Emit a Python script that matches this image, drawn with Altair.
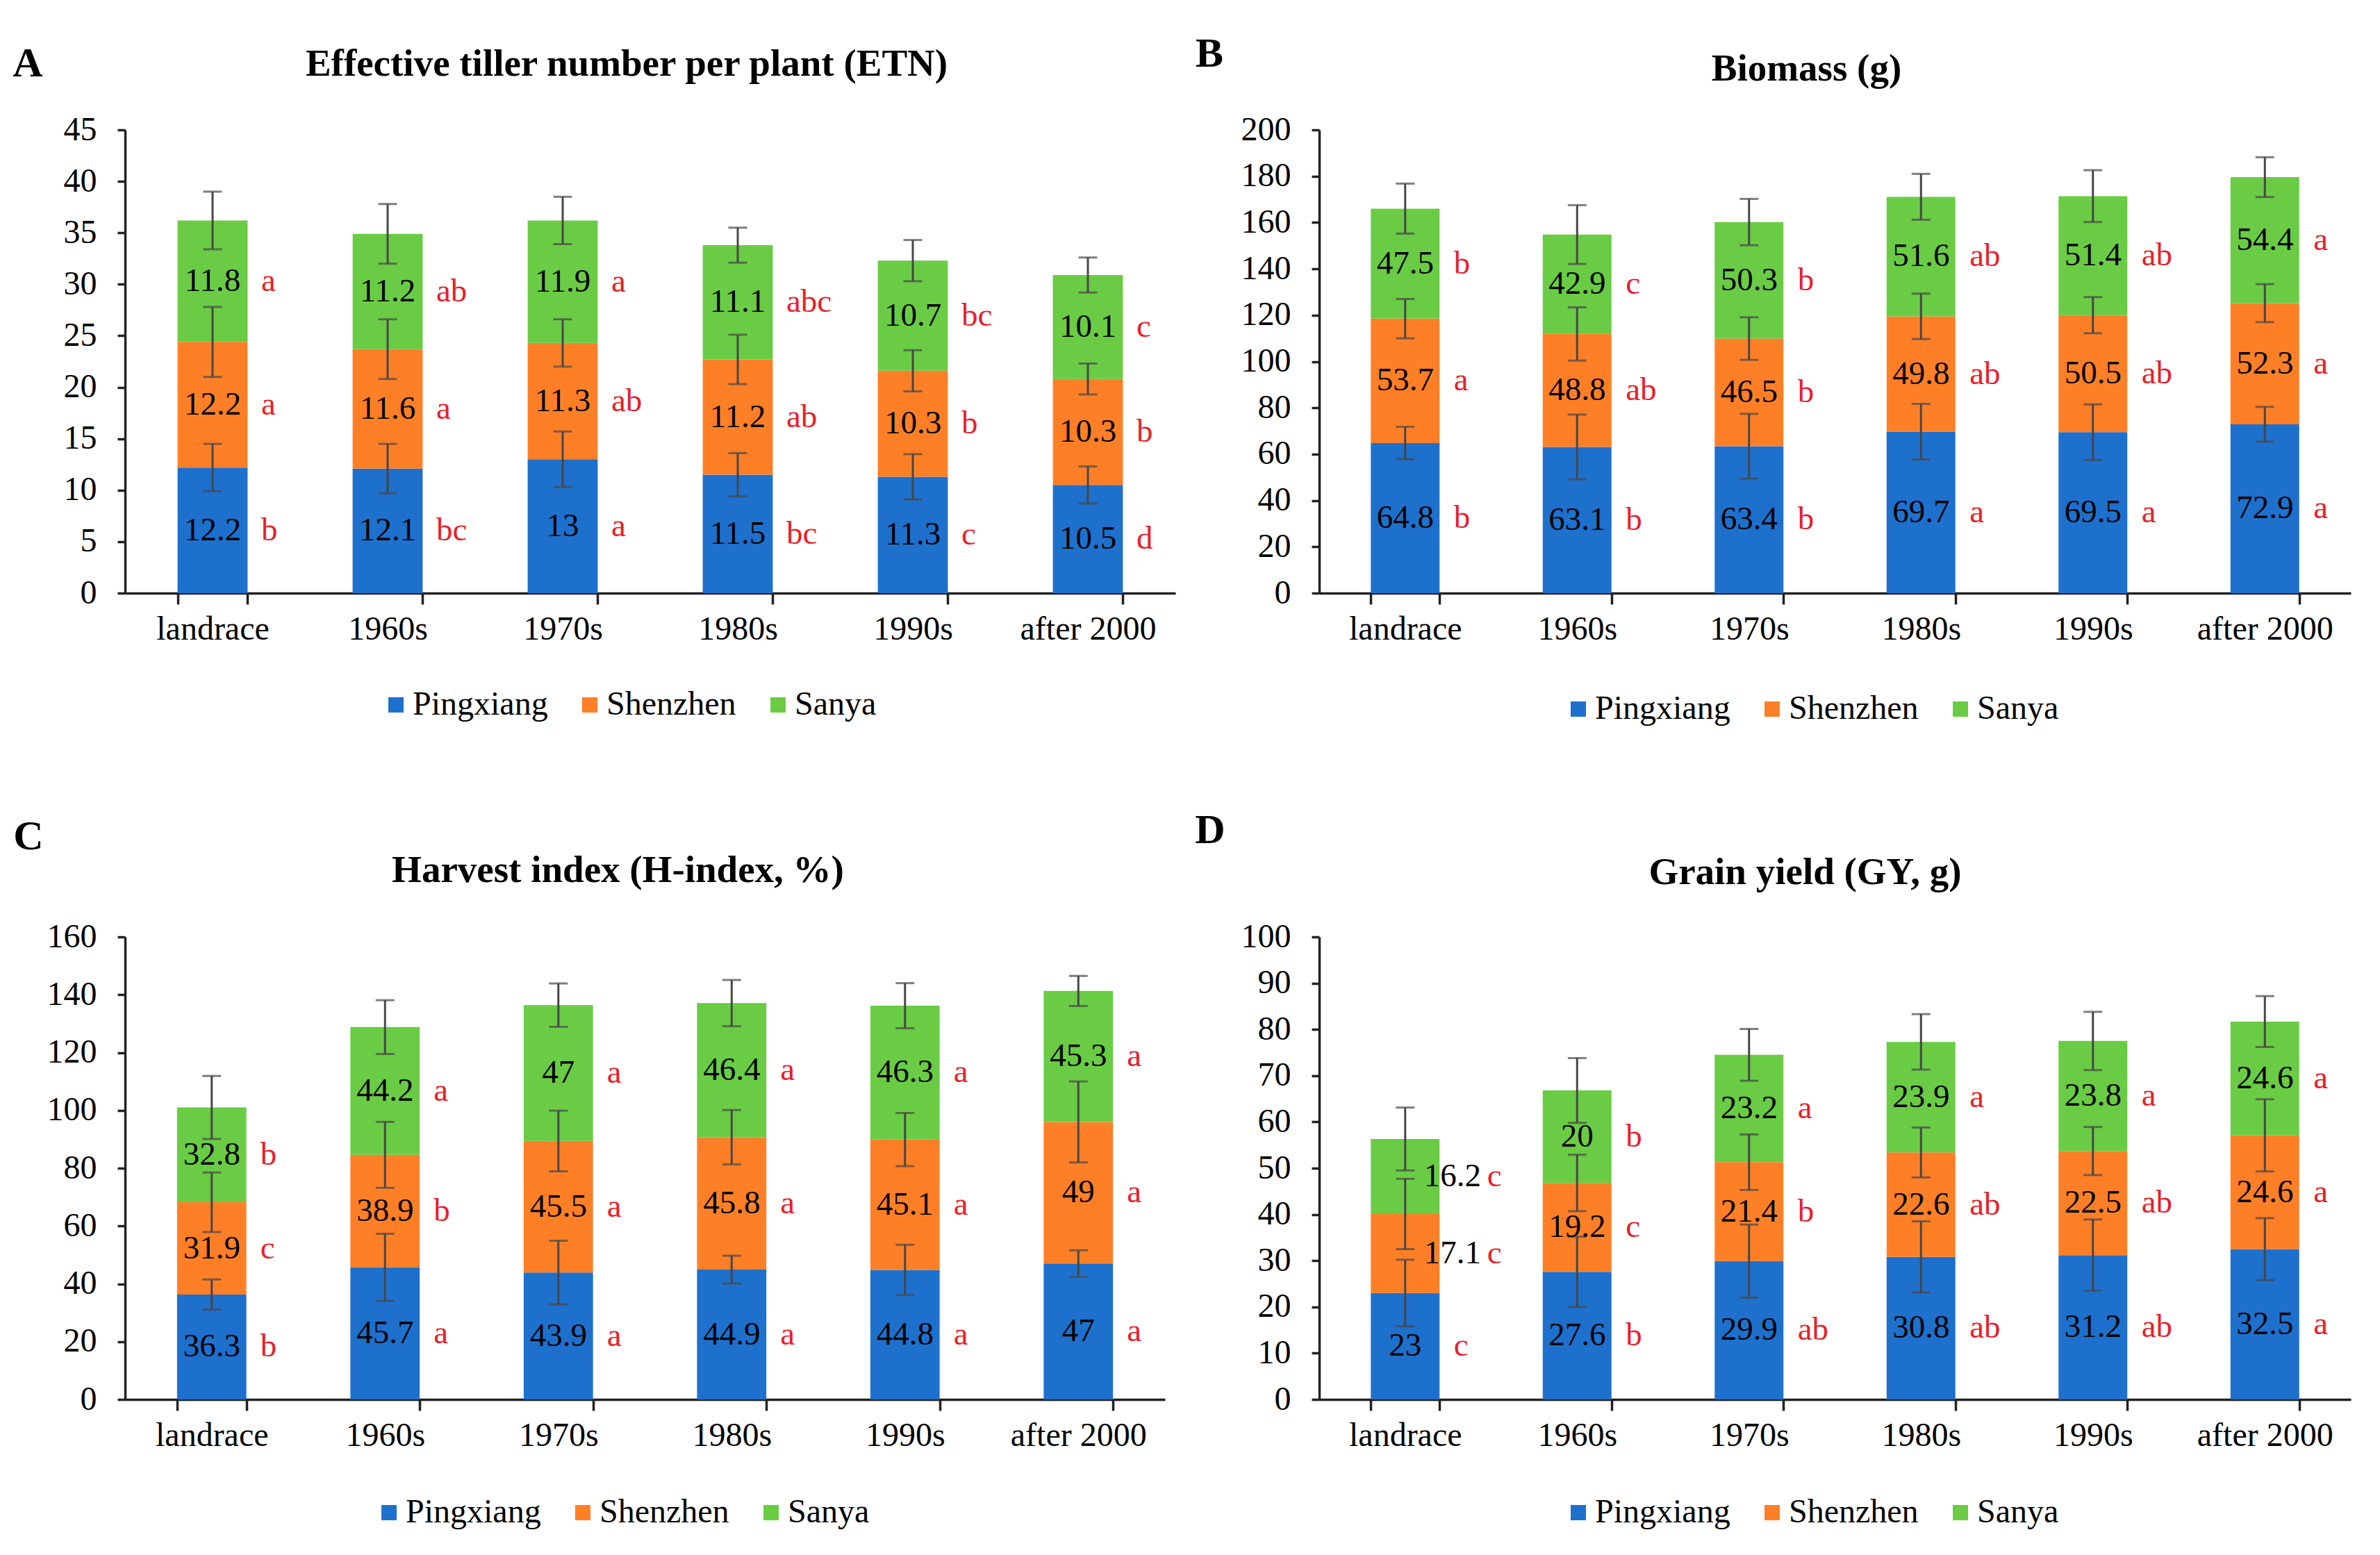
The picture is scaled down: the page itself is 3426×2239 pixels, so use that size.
import altair as alt
import pandas as pd

categories = ["landrace", "1960s", "1970s", "1980s", "1990s", "after 2000"]
series_names = ["Pingxiang", "Shenzhen", "Sanya"]
colors = ["#1E70CD", "#FF7F27", "#6ACC44"]

# Panel A: Effective tiller number per plant
A_ping = [12.2, 12.1, 13, 11.5, 11.3, 10.5]
A_shen = [12.2, 11.6, 11.3, 11.2, 10.3, 10.3]
A_sanya = [11.8, 11.2, 11.9, 11.1, 10.7, 10.1]
A_ping_err = [2.3, 2.4, 2.7, 2.1, 2.2, 1.8]
A_shen_err = [3.4, 2.9, 2.3, 2.4, 2.0, 1.5]
A_sanya_err = [2.8, 2.9, 2.3, 1.7, 2.0, 1.7]
A_ping_sig = ["b", "bc", "a", "bc", "c", "d"]
A_shen_sig = ["a", "a", "ab", "ab", "b", "b"]
A_sanya_sig = ["a", "ab", "a", "abc", "bc", "c"]

# Panel B: Biomass (g)
B_ping = [64.8, 63.1, 63.4, 69.7, 69.5, 72.9]
B_shen = [53.7, 48.8, 46.5, 49.8, 50.5, 52.3]
B_sanya = [47.5, 42.9, 50.3, 51.6, 51.4, 54.4]
B_ping_err = [7, 14, 14, 12, 12, 7.5]
B_shen_err = [8.5, 11.5, 9.2, 9.8, 7.8, 8.2]
B_sanya_err = [10.8, 12.7, 10, 9.9, 11.2, 8.6]
B_ping_sig = ["b", "b", "b", "a", "a", "a"]
B_shen_sig = ["a", "ab", "b", "ab", "ab", "a"]
B_sanya_sig = ["b", "c", "b", "ab", "ab", "a"]

# Panel C: Harvest index (%)
C_ping = [36.3, 45.7, 43.9, 44.9, 44.8, 47]
C_shen = [31.9, 38.9, 45.5, 45.8, 45.1, 49]
C_sanya = [32.8, 44.2, 47, 46.4, 46.3, 45.3]
C_ping_err = [5.2, 11.6, 11, 4.8, 8.7, 4.6]
C_shen_err = [10.3, 11.4, 10.5, 9.4, 9.2, 14]
C_sanya_err = [10.9, 9.3, 7.5, 8, 7.8, 5.2]
C_ping_sig = ["b", "a", "a", "a", "a", "a"]
C_shen_sig = ["c", "b", "a", "a", "a", "a"]
C_sanya_sig = ["b", "a", "a", "a", "a", "a"]

# Panel D: Grain yield (g)
D_ping = [23, 27.6, 29.9, 30.8, 31.2, 32.5]
D_shen = [17.1, 19.2, 21.4, 22.6, 22.5, 24.6]
D_sanya = [16.2, 20, 23.2, 23.9, 23.8, 24.6]
D_ping_err = [7.2, 7.6, 7.9, 7.7, 7.7, 6.7]
D_shen_err = [7.6, 6.1, 6.0, 5.4, 5.2, 7.8]
D_sanya_err = [6.8, 7.0, 5.6, 6.0, 6.3, 5.5]
D_ping_sig = ["c", "b", "ab", "ab", "ab", "a"]
D_shen_sig = ["c", "c", "b", "ab", "ab", "a"]
D_sanya_sig = ["c", "b", "a", "a", "a", "a"]

SERIF = "Liberation Serif"
ERR_COLOR = "#474747"
SIG_COLOR = "#E8202A"


def build_df(panel, vals, errs, sigs):
    rows = []
    for i, c in enumerate(categories):
        base = 0.0
        for k, s in enumerate(series_names):
            v = vals[k][i]
            e = errs[k][i]
            lo, hi = base, base + v
            rows.append(dict(
                cat=c, series=s, lo=lo, hi=hi, mid=(lo + hi) / 2,
                elo=hi - e, ehi=hi + e, label=f"{v:g}", sig=sigs[k][i],
                shift=bool(panel == "D" and c == "landrace" and s != "Pingxiang"),
            ))
            base = hi
    return pd.DataFrame(rows)


def panel(key, title, vals, errs, sigs, ymax, step, width, height,
          letter_xy, title_dx, title_y, legend_xy):
    df = build_df(key, vals, errs, sigs)
    xenc = alt.X("cat:N", sort=categories,
                 scale=alt.Scale(paddingInner=0.6, paddingOuter=0.3),
                 axis=alt.Axis(title=None, labelAngle=0, tickBand="extent",
                               tickSize=16, labelPadding=12, labelLimit=600))
    yscale = alt.Scale(domain=[0, ymax], nice=False)
    base = alt.Chart(df).encode(x=xenc)

    bars = base.mark_bar().encode(
        y=alt.Y("hi:Q", scale=yscale,
                axis=alt.Axis(title=None, grid=False, values=list(range(0, ymax + 1, step)),
                              format="d", tickSize=11, labelPadding=30)),
        y2="lo:Q",
        color=alt.Color("series:N",
                        scale=alt.Scale(domain=series_names, range=colors),
                        legend=alt.Legend(title=None, orient="none",
                                          legendX=legend_xy[0], legendY=legend_xy[1],
                                          direction="horizontal", symbolType="square",
                                          symbolSize=484, symbolStrokeWidth=0,
                                          labelFont=SERIF, labelFontSize=48,
                                          labelColor="black", labelOffset=0,
                                          labelLimit=600,
                                          columnPadding=36, padding=0)),
    )
    rules = base.mark_rule(color=ERR_COLOR, strokeWidth=3).encode(
        y=alt.Y("elo:Q", scale=yscale), y2="ehi:Q")
    cap_lo = base.mark_tick(color=ERR_COLOR, size=27, thickness=3, orient="horizontal").encode(
        y=alt.Y("elo:Q", scale=yscale))
    cap_hi = base.mark_tick(color=ERR_COLOR, size=27, thickness=3, orient="horizontal").encode(
        y=alt.Y("ehi:Q", scale=yscale))

    labels = base.transform_filter("!datum.shift").mark_text(
        font=SERIF, fontSize=47, color="black", baseline="middle").encode(
        y=alt.Y("mid:Q", scale=yscale), text="label:N")
    sigs_l = base.transform_filter("!datum.shift").mark_text(
        font=SERIF, fontSize=47, color=SIG_COLOR, baseline="middle", align="left", dx=70).encode(
        y=alt.Y("mid:Q", scale=yscale), text="sig:N")
    labels_s = base.transform_filter("datum.shift").mark_text(
        font=SERIF, fontSize=47, color="black", baseline="middle", dx=68).encode(
        y=alt.Y("mid:Q", scale=yscale), text="label:N")
    sigs_s = base.transform_filter("datum.shift").mark_text(
        font=SERIF, fontSize=47, color=SIG_COLOR, baseline="middle", align="left", dx=118).encode(
        y=alt.Y("mid:Q", scale=yscale), text="sig:N")

    annot = pd.DataFrame({"t": [key, title]})
    letter = alt.Chart(annot).transform_filter(alt.datum.t == key).mark_text(
        font=SERIF, fontSize=60, fontWeight="bold", color="black",
        align="center", baseline="middle").encode(
        text="t:N", x=alt.value(letter_xy[0]), y=alt.value(letter_xy[1]))
    heading = alt.Chart(annot).transform_filter(alt.datum.t == title).mark_text(
        font=SERIF, fontSize=55, fontWeight="bold", color="black",
        align="center", baseline="middle").encode(
        text="t:N", x=alt.value(width / 2 + title_dx), y=alt.value(title_y))

    return alt.layer(bars, rules, cap_lo, cap_hi, labels, sigs_l, labels_s, sigs_s,
                     letter, heading).properties(width=width, height=height)


pA = panel("A", "Effective tiller number per plant (ETN)",
           [A_ping, A_shen, A_sanya], [A_ping_err, A_shen_err, A_sanya_err],
           [A_ping_sig, A_shen_sig, A_sanya_sig], 45, 5, 1512, 667,
           (-140, -95), -34, -95, (366, 804))
pB = panel("B", "Biomass (g)",
           [B_ping, B_shen, B_sanya], [B_ping_err, B_shen_err, B_sanya_err],
           [B_ping_sig, B_shen_sig, B_sanya_sig], 200, 20, 1485, 667,
           (-158, -109), -41, -88, (349, 810))
pC = panel("C", "Harvest index (H-index, %)",
           [C_ping, C_shen, C_sanya], [C_ping_err, C_shen_err, C_sanya_err],
           [C_ping_sig, C_shen_sig, C_sanya_sig], 160, 20, 1497, 666,
           (-139, -144), -39, -96, (356, 805))
pD = panel("D", "Grain yield (GY, g)",
           [D_ping, D_shen, D_sanya], [D_ping_err, D_shen_err, D_sanya_err],
           [D_ping_sig, D_shen_sig, D_sanya_sig], 100, 10, 1485, 666,
           (-157, -153), -43, -93, (349, 805))

res = dict(x="independent", y="independent", color="independent")
row1 = alt.hconcat(pA, pB, spacing=207, bounds="flush").resolve_scale(**res)
row2 = alt.hconcat(pC, pD, spacing=222, bounds="flush").resolve_scale(**res)

chart = alt.vconcat(row1, row2, spacing=1162, bounds="flush").resolve_scale(**res).properties(
    padding={"left": 10, "top": 40, "right": 5, "bottom": 5},
    background="white",
).configure_view(stroke=None).configure_axis(
    labelFont=SERIF, labelFontSize=48, labelColor="black",
    domainColor="#222222", domainWidth=3.5, tickColor="#222222", tickWidth=3.5,
)

chart.save("out.html", embed_options={"renderer": "svg", "actions": False})
